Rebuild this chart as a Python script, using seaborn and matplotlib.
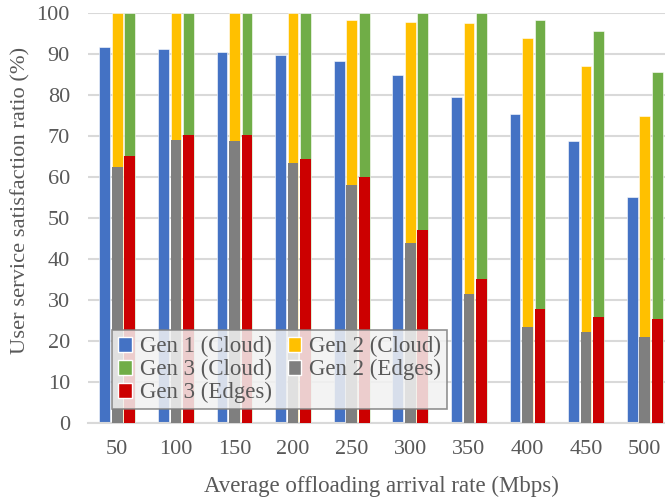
import numpy as np
import pandas as pd
import matplotlib
matplotlib.use("Agg")
import matplotlib.pyplot as plt
from matplotlib.patches import Patch
import seaborn as sns

rates = ["50", "100", "150", "200", "250", "300", "350", "400", "450", "500"]
gen1_cloud = [91.8, 91.3, 90.4, 89.8, 88.3, 85.0, 79.6, 75.3, 68.8, 55.2]
gen2_cloud = [100, 100, 100, 100, 98.2, 97.8, 97.5, 94.0, 87.0, 75.0]
gen3_cloud = [100, 100, 100, 100, 100, 100, 100, 98.2, 95.7, 85.6]
gen2_edges = [62.5, 69.0, 68.7, 63.3, 58.0, 43.8, 31.4, 23.5, 22.1, 21.0]
gen3_edges = [65.2, 70.3, 70.3, 64.3, 60.0, 47.0, 35.2, 27.9, 25.9, 25.4]

gens = ["Gen 1", "Gen 2", "Gen 3"]
cloud_df = pd.DataFrame({
    "rate": rates * 3,
    "gen": np.repeat(gens, len(rates)),
    "value": gen1_cloud + gen2_cloud + gen3_cloud,
})
edge_df = pd.DataFrame({
    "rate": rates * 3,
    "gen": np.repeat(gens, len(rates)),
    "value": [0] * len(rates) + gen2_edges + gen3_edges,
})

c_blue, c_yellow, c_green = "#4472C4", "#FFC000", "#70AD47"
c_gray, c_red = "#7F7F7F", "#CC0000"

sns.set_style("white")
plt.rcParams["font.family"] = ["Liberation Serif", "DejaVu Serif"]
txt = "#595959"

fig = plt.figure(figsize=(6.65, 5.0), dpi=100)
ax = fig.add_axes([88 / 665, 1 - 423 / 500, 586 / 665, 410 / 500])

sns.barplot(data=cloud_df, x="rate", y="value", hue="gen", hue_order=gens,
            palette=[c_blue, c_yellow, c_green], saturation=1, width=0.64, gap=0.15,
            edgecolor="white", linewidth=0.4, ax=ax, legend=False, zorder=2)
sns.barplot(data=edge_df, x="rate", y="value", hue="gen", hue_order=gens,
            palette=[c_blue, c_gray, c_red], saturation=1, width=0.64, gap=0.15,
            edgecolor="none", linewidth=0, ax=ax, legend=False, zorder=3)

ax.set_ylim(0, 100)
ax.set_xlim(-0.5, 9.5)
ax.set_yticks(range(0, 101, 10))
ax.yaxis.grid(True, color="#d9d9d9", linewidth=1.5, zorder=0)
ax.set_axisbelow(True)
for s in ["top", "right", "left"]:
    ax.spines[s].set_visible(False)
ax.spines["bottom"].set_color("#d9d9d9")
ax.spines["bottom"].set_linewidth(1.5)
ax.tick_params(axis="both", length=0, labelsize=16, colors=txt)
ax.tick_params(axis="x", pad=12)
ax.tick_params(axis="y", pad=13)
ax.set_xlabel("Average offloading arrival rate (Mbps)", fontsize=16.5, color=txt, labelpad=12)
ax.set_ylabel("User service satisfaction ratio (%)", fontsize=16.2, color=txt)
ax.yaxis.set_label_coords(-58 / 586, (423 - 200) / 410)

handles = [
    Patch(facecolor=c_blue, label="Gen 1 (Cloud)"),
    Patch(facecolor=c_green, label="Gen 3 (Cloud)"),
    Patch(facecolor=c_red, label="Gen 3 (Edges)"),
    Patch(facecolor=c_yellow, label="Gen 2 (Cloud)"),
    Patch(facecolor=c_gray, label="Gen 2 (Edges)"),
]
leg = ax.legend(handles=handles, ncol=2, loc="lower left", bbox_to_anchor=(0.041, 0.034),
                fontsize=16.5, frameon=True, fancybox=False, handlelength=0.6,
                handleheight=0.6, handletextpad=0.35, columnspacing=0.7,
                labelspacing=0.08, borderpad=0.25, borderaxespad=0)
leg.get_frame().set_facecolor("#f2f2f2")
leg.get_frame().set_alpha(0.85)
leg.get_frame().set_edgecolor("#7f7f7f")
leg.get_frame().set_linewidth(1.2)
for t in leg.get_texts():
    t.set_color(txt)

fig.savefig("out.png", dpi=100)
